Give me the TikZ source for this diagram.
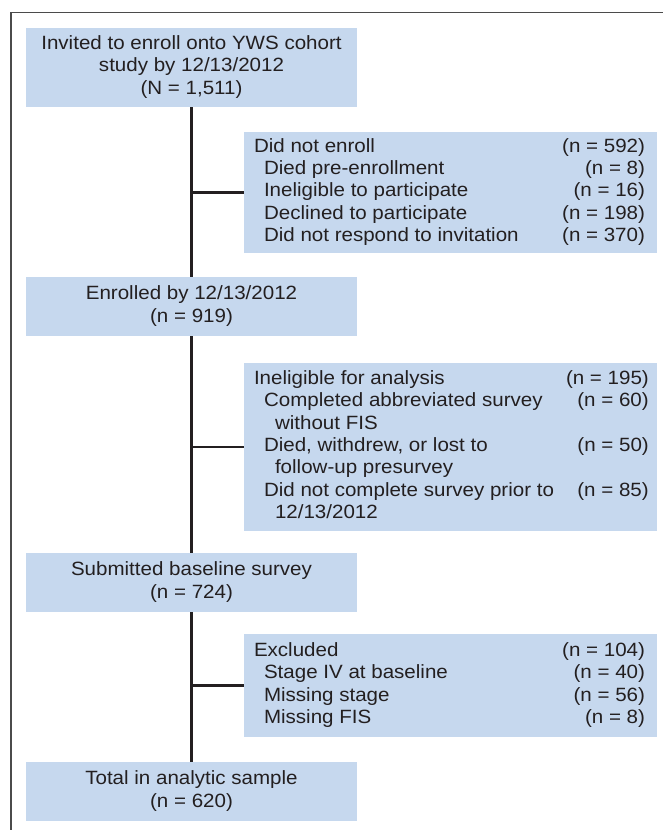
\documentclass[tikz,border=0pt]{standalone}
\usepackage{fontspec}
\setmainfont{Liberation Sans}[FakeStretch=1.07]
\definecolor{boxfill}{RGB}{198,216,238}
\definecolor{ink}{RGB}{35,31,32}
\definecolor{framegray}{RGB}{75,75,75}
\newcommand{\ind}{\hspace*{10pt}}
\newcommand{\indd}{\hspace*{21pt}}
\newenvironment{rlist}{\begin{tabular*}{393pt}{@{\extracolsep{\fill}}l r@{\hspace{2pt}}}}{\end{tabular*}}
\begin{document}
\begin{tikzpicture}[x=1pt,y=-1pt,
  every node/.style={text=ink, font=\fontsize{19.2}{22.3}\selectfont},
  lbox/.style={fill=boxfill, inner sep=0pt, minimum width=331pt},
  rbox/.style={fill=boxfill, inner sep=0pt, minimum width=413pt},
  link/.style={draw=ink, line width=2.4pt}]
\useasboundingbox (0,0) rectangle (663,830);
\draw[framegray, line width=1.1pt] (11,830) -- (11,12.7) -- (663,12.7);

% left (main) boxes
\node[lbox, minimum height=79pt] (b1) at (191.5,67.5)
  {\begin{tabular}{@{}c@{}}Invited to enroll onto YWS cohort\\study by 12/13/2012\\(N = 1,511)\end{tabular}};
\node[lbox, minimum height=59pt] (b3) at (191.5,306.5)
  {\begin{tabular}{@{}c@{}}Enrolled by 12/13/2012\\(n = 919)\end{tabular}};
\node[lbox, minimum height=59pt] (b5) at (191.5,582.5)
  {\begin{tabular}{@{}c@{}}Submitted baseline survey\\(n = 724)\end{tabular}};
\node[lbox, minimum height=59pt] (b7) at (191.5,791.5)
  {\begin{tabular}{@{}c@{}}Total in analytic sample\\(n = 620)\end{tabular}};

% right (exclusion) boxes
\node[rbox, minimum height=121pt] (b2) at (450.5,192.5)
  {\begin{rlist}
  Did not enroll & (n = 592)\\
  \ind Died pre-enrollment & (n = 8)\\
  \ind Ineligible to participate & (n = 16)\\
  \ind Declined to participate & (n = 198)\\
  \ind Did not respond to invitation & (n = 370)
  \end{rlist}};
\node[rbox, minimum height=168pt] (b4) at (450.5,447)
  {\begin{rlist}
  Ineligible for analysis & (n = 195)\\
  \ind Completed abbreviated survey & (n = 60)\\
  \indd without FIS & \\
  \ind Died, withdrew, or lost to & (n = 50)\\
  \indd follow-up presurvey & \\
  \ind Did not complete survey prior to & (n = 85)\\
  \indd 12/13/2012 &
  \end{rlist}};
\node[rbox, minimum height=103pt] (b6) at (450.5,685.5)
  {\begin{rlist}
  Excluded & (n = 104)\\
  \ind Stage IV at baseline & (n = 40)\\
  \ind Missing stage & (n = 56)\\
  \ind Missing FIS & (n = 8)
  \end{rlist}};

% connectors
\draw[link] (b1.south) -- (b3.north);
\draw[link] (b3.south) -- (b5.north);
\draw[link] (b5.south) -- (b7.north);
\draw[link] (b1.south |- b2.west) -- (b2.west);
\draw[link] (b3.south |- b4.west) -- (b4.west);
\draw[link] (b5.south |- b6.west) -- (b6.west);
\end{tikzpicture}
\end{document}
